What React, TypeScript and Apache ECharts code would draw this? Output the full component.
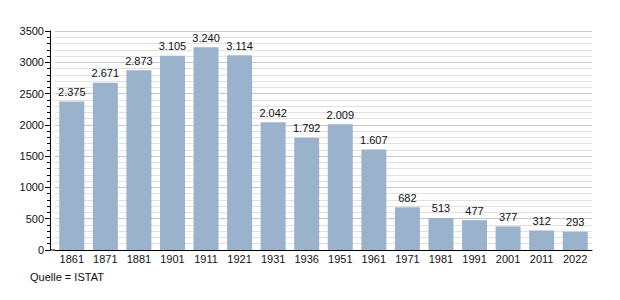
import React, { useEffect, useRef } from "react";
import * as echarts from "echarts";

const years = ["1861","1871","1881","1901","1911","1921","1931","1936","1951","1961","1971","1981","1991","2001","2011","2022"];
const population = [2375, 2671, 2873, 3105, 3240, 3114, 2042, 1792, 2009, 1607, 682, 513, 477, 377, 312, 293];
const sourceText = "Quelle = ISTAT";

const fmt = (v: number) => v.toString().replace(/\B(?=(\d{3})+(?!\d))/g, ".");

export default function App() {
  const ref = useRef<HTMLDivElement>(null);
  useEffect(() => {
    document.body.style.margin = "0";
    if (!ref.current) return;
    const chart = echarts.init(ref.current, undefined, { renderer: "svg" });
    const font = "Liberation Sans, Arial, sans-serif";
    chart.setOption({
      animation: false,
      grid: { left: 55, right: 28, top: 31, bottom: 50 },
      xAxis: {
        type: "category",
        data: years,
        axisLine: { show: true, lineStyle: { color: "#000", width: 1 } },
        axisTick: { show: false },
        axisLabel: { color: "#111", fontSize: 11, fontFamily: font, margin: 3 },
      },
      yAxis: {
        type: "value",
        min: 0,
        max: 3500,
        interval: 500,
        offset: 5,
        axisLine: { show: true, lineStyle: { color: "#000", width: 1 } },
        axisTick: { show: true, inside: false, length: 5, lineStyle: { color: "#000" } },
        minorTick: { show: true, splitNumber: 5, length: 3, lineStyle: { color: "#000" } },
        axisLabel: { color: "#111", fontSize: 11, fontFamily: font, margin: 6, formatter: (v: number) => String(v) },
        splitLine: { show: true, lineStyle: { color: "#c8c8c8", width: 1 } },
        minorSplitLine: { show: true, lineStyle: { color: "#e2e2e2", width: 1 } },
      },
      series: [
        {
          type: "bar",
          data: population,
          barWidth: 25,
          itemStyle: { color: "#9bb2cd" },
          label: {
            show: true,
            position: "top",
            distance: 4,
            color: "#111",
            fontSize: 11,
            fontFamily: font,
            formatter: (p: any) => fmt(p.value),
          },
        },
      ],
      graphic: [
        {
          type: "line",
          shape: { x1: 50, y1: 250, x2: 55, y2: 250 },
          style: { stroke: "#000", lineWidth: 1 },
        },
        {
          type: "text",
          left: 30,
          top: 271,
          style: { text: sourceText, fontSize: 11, fontFamily: font, fill: "#111" },
        },
      ],
    });
    return () => chart.dispose();
  }, []);
  return <div ref={ref} style={{ width: 620, height: 300 }} />;
}
